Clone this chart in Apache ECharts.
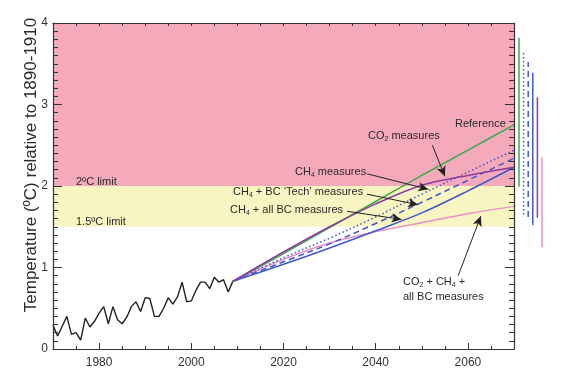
<!DOCTYPE html>
<html><head><meta charset="utf-8">
<script src="https://cdn.jsdelivr.net/npm/echarts@6/dist/echarts.min.js"></script>
<style>html,body{margin:0;padding:0;background:#fff}#c{width:570px;height:379px}</style>
</head><body><div id="c"></div>
<script>
// ---- data ----
const histYears = [1970,1971,1972,1973,1974,1975,1976,1977,1978,1979,1980,1981,1982,1983,1984,1985,1986,1987,1988,1989,1990,1991,1992,1993,1994,1995,1996,1997,1998,1999,2000,2001,2002,2003,2004,2005,2006,2007,2008,2009];
const histTemp  = [0.29,0.16,0.28,0.40,0.18,0.20,0.11,0.38,0.27,0.34,0.44,0.52,0.31,0.52,0.36,0.31,0.39,0.52,0.58,0.46,0.63,0.62,0.40,0.40,0.50,0.63,0.55,0.64,0.82,0.58,0.59,0.72,0.82,0.82,0.74,0.88,0.82,0.85,0.70,0.83];
const futureYears = [2009,2020,2030,2040,2050,2060,2070];
const reference   = [0.83,1.17,1.49,1.81,2.13,2.44,2.75];
const co2Measures = [0.83,1.19,1.50,1.78,2.01,2.13,2.23];
const ch4Measures = [0.83,1.12,1.36,1.62,1.90,2.17,2.44];
const ch4BcTech   = [0.83,1.07,1.29,1.54,1.80,2.07,2.34];
const ch4AllBc    = [0.83,1.04,1.24,1.45,1.67,1.94,2.23];
const co2Ch4AllBc = [0.83,1.10,1.30,1.44,1.55,1.66,1.75];
const rangeNames = ['Reference','CH4','CH4+BC Tech','CH4+all BC','CO2','CO2+CH4+all BC'];
const rangeLow  = [1.99,1.65,1.62,1.52,1.61,1.25];
const rangeHigh = [3.82,3.66,3.52,3.39,3.09,2.35];
const xLabelYears = [1980,2000,2020,2040,2060];
const limitBands = [[2,4],[1.5,2]];
// arrows: [fromYear, fromTemp, toYear, toTemp]
const arrows = [
  [2052.3,2.50,2055.0,2.12],
  [2038.1,2.15,2051.4,1.96],
  [2038.1,1.90,2049.2,1.77],
  [2033.8,1.69,2045.6,1.59],
  [2057.9,0.90,2062.8,1.63]
];

// ---- styles ----
const FONT = '"Liberation Sans", Arial, Helvetica, sans-serif';
const bandColors = ['#F5AABC','#F8F5C2'];
const cGreen = '#3DAA4B', cPurple = '#8E3A9E', cBlue = '#3F58C6', cPink = '#E690C6';
const rangeStyles = [
  {color:cGreen, type:'solid'},
  {color:cBlue, type:[1.5,2.5]},
  {color:cBlue, type:[6,4]},
  {color:cBlue, type:'solid'},
  {color:cPurple, type:'solid'},
  {color:cPink, type:'solid'}
];

const pair = (xs, ys) => xs.map((x,i)=>[x, ys[i]]);
function futureSeries(vals, color, type){
  return {type:'line', data:pair(futureYears, vals), smooth:0.35, symbol:'none',
    lineStyle:{color:color, width:1.5, type:type}, z:3, silent:true};
}

const chart = echarts.init(document.getElementById('c'), null, {renderer:'canvas'});
const axisCol = '#333';
const series = [
  {type:'line', data:pair(histYears, histTemp), symbol:'none',
   lineStyle:{color:'#222', width:1.4}, z:3, silent:true,
   markArea:{silent:true, data: limitBands.map((b,i)=>[
     {yAxis:b[0], itemStyle:{color:bandColors[i], opacity:1}}, {yAxis:b[1]}])},
   markLine:{silent:true, symbol:['none','arrow'], symbolSize:[7,10], label:{show:false},
     lineStyle:{color:'#222', width:1, type:'solid'},
     data: arrows.map(a=>[{coord:[a[0],a[1]]},{coord:[a[2],a[3]]}])}
  },
  futureSeries(reference, cGreen, 'solid'),
  futureSeries(co2Ch4AllBc, cPink, 'solid'),
  futureSeries(ch4AllBc, cBlue, 'solid'),
  futureSeries(ch4BcTech, cBlue, [6,4]),
  futureSeries(ch4Measures, cBlue, [1.5,2.5]),
  futureSeries(co2Measures, cPurple, 'solid')
];
rangeNames.forEach((n,i)=>{
  series.push({type:'line', xAxisIndex:3, yAxisIndex:2, symbol:'none', silent:true,
    data:[[n, rangeLow[i]],[n, rangeHigh[i]]],
    lineStyle:{color:rangeStyles[i].color, type:rangeStyles[i].type, width:1.5}});
});

const txt = (x,y,text,size) => ({type:'text', x:x, y:y, silent:true, z:20,
  style:{text:text, fontFamily:FONT, fontSize:size||11, fill:'#2a2a2a',
    textAlign:'left', textVerticalAlign:'middle',
    rich:{s:{fontSize:7, fontFamily:FONT, fill:'#2a2a2a', padding:[6,0,0,0]}}}});

chart.setOption({
  animation:false,
  backgroundColor:'#fff',
  grid:[{left:53, top:23, width:461, height:326},
        {left:516.7, top:23, width:27.6, height:326}],
  xAxis:[
    {gridIndex:0, type:'value', position:'bottom', min:1970, max:2070, interval:5, z:10,
     axisLine:{show:true, lineStyle:{color:'#333', width:1.2}},
     axisTick:{show:true, inside:true, length:3, lineStyle:{color:'#333'}},
     axisLabel:{show:false}, splitLine:{show:false}},
    {gridIndex:0, type:'value', position:'bottom', min:1970, max:2070, z:10,
     axisLine:{show:false},
     axisTick:{show:true, inside:true, length:6, customValues:xLabelYears, lineStyle:{color:'#333'}},
     axisLabel:{show:true, customValues:xLabelYears, formatter:v=>String(v),
       fontFamily:FONT, fontSize:12, color:axisCol, margin:8},
     splitLine:{show:false}},
    {gridIndex:0, type:'value', position:'top', min:1970, max:2070, interval:5, z:10,
     axisLine:{show:true, lineStyle:{color:'#333', width:1.2}},
     axisTick:{show:true, inside:true, length:3, lineStyle:{color:'#333'}},
     axisLabel:{show:false}, splitLine:{show:false}},
    {gridIndex:1, type:'category', data:rangeNames, boundaryGap:true, show:false}
  ],
  yAxis:[
    {gridIndex:0, type:'value', position:'left', min:0, max:4, interval:1, z:10,
     axisLine:{show:true, lineStyle:{color:'#333', width:1.2}},
     axisTick:{show:true, inside:true, length:9, lineStyle:{color:'#333'}},
     minorTick:{show:true, splitNumber:10, length:5, lineStyle:{color:'#333'}},
     axisLabel:{fontFamily:FONT, fontSize:12, color:axisCol, margin:5},
     splitLine:{show:false}, minorSplitLine:{show:false}},
    {gridIndex:0, type:'value', position:'right', min:0, max:4, interval:1, z:10,
     axisLine:{show:true, lineStyle:{color:'#333', width:1.2}},
     axisTick:{show:true, inside:true, length:9, lineStyle:{color:'#333'}},
     minorTick:{show:true, splitNumber:10, length:5, lineStyle:{color:'#333'}},
     axisLabel:{show:false}, splitLine:{show:false}, minorSplitLine:{show:false}},
    {gridIndex:1, type:'value', min:0, max:4, show:false}
  ],
  series:series,
  graphic:[
    {type:'text', x:31, y:165, rotation:Math.PI/2, silent:true,
     style:{text:'Temperature (ºC) relative to 1890-1910', fontFamily:FONT, fontSize:17,
       fill:'#2a2a2a', textAlign:'center', textVerticalAlign:'middle'}},
    txt(76,182,'2ºC limit'),
    txt(76,222,'1.5ºC limit'),
    txt(455,124,'Reference'),
    txt(368,136,'CO{s|2} measures'),
    txt(295,172,'CH{s|4} measures'),
    txt(233,192,'CH{s|4} + BC ‘Tech’ measures'),
    txt(230,210,'CH{s|4} + all BC measures'),
    txt(403,282,'CO{s|2} + CH{s|4} +'),
    txt(403,297,'all BC measures')
  ]
});
</script></body></html>
